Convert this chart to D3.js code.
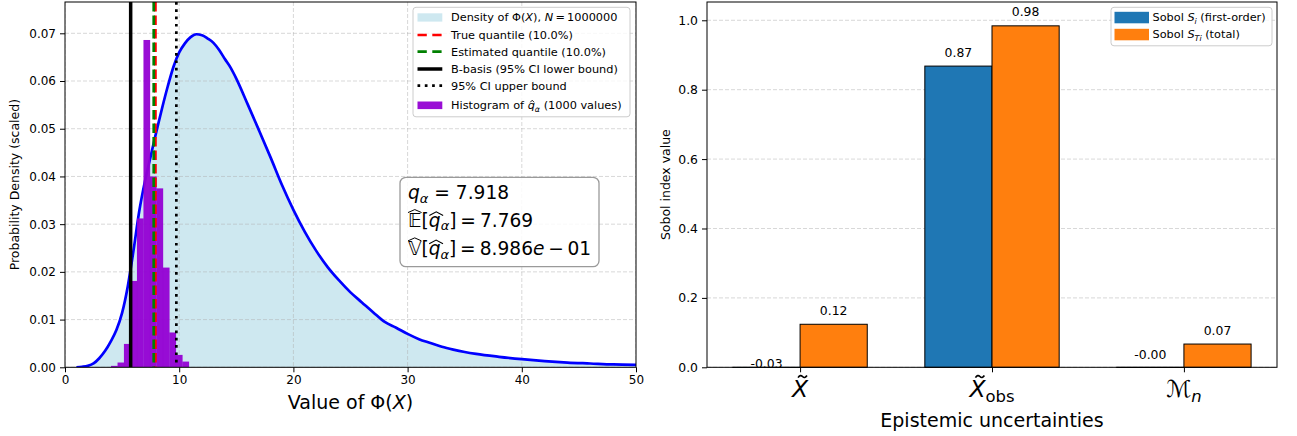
<!DOCTYPE html>
<html><head><meta charset="utf-8">
<script src="https://cdn.jsdelivr.net/npm/d3@7"></script>
<style>
body{margin:0;background:#fff}
svg{display:block}
text{font-family:"DejaVu Sans",sans-serif;fill:#000;white-space:pre}
</style>
</head><body>
<svg id="fig" width="1297" height="436"></svg>
<script>
// ---- Left panel: density of Phi(X) and quantile estimates ----
const phiGrid = [1.0,1.5,2.0,2.5,3.0,3.5,4.0,4.5,5.0,5.5,6.0,6.5,7.0,7.5,8.0,8.5,9.0,9.5,10.0,10.5,11.0,11.5,12.0,12.5,13.0,13.5,14.0,14.5,15,16,17,18,19,20,21,22,23,24,25,26,27,28,29,30,31,32,33,34,35,36,38,40,42,44,46,48,50];
const phiDensity = [0.0000,0.0001,0.0003,0.0008,0.0019,0.0034,0.0054,0.0078,0.0114,0.0170,0.0245,0.0327,0.0390,0.0442,0.0494,0.0543,0.0589,0.0630,0.0660,0.0679,0.0692,0.0698,0.0696,0.0689,0.0680,0.0665,0.0646,0.0628,0.0605,0.0551,0.0496,0.0440,0.0382,0.0330,0.0284,0.0244,0.0210,0.0182,0.0157,0.0136,0.0115,0.0095,0.0083,0.0070,0.0059,0.0051,0.0043,0.0037,0.0032,0.0028,0.0022,0.0017,0.0013,0.0010,0.0008,0.0006,0.0005];
const histEdges = [4.03,4.60,5.16,5.73,6.30,6.87,7.43,8.00,8.57,9.13,9.70,10.27,10.84];
const histHeights = [0.0003,0.0010,0.0049,0.0181,0.0312,0.0686,0.0400,0.0375,0.0209,0.0073,0.0026,0.0012];
const trueQuantile = 7.918;
const estQuantile = 7.769;
const bBasis = 5.75;
const ciUpper = 9.75;
const varEstimate = "8.986";
const xTicksL = [0,10,20,30,40,50];
const yTicksL = [0,0.01,0.02,0.03,0.04,0.05,0.06,0.07];

// ---- Right panel: Sobol indices ----
const sobolFirst = [-0.028, 0.868, -0.002];
const sobolTotal = [0.124, 0.984, 0.067];
const yTicksR = [0,0.2,0.4,0.6,0.8,1.0];

const svg = d3.select("#fig");
const FONT = '"DejaVu Sans",sans-serif';

// rich text: a row of pieces (italic, subscript, hats, tildes) laid out left to right
function rich(parent, segs, fs, x, y, anchor, rotate) {
  const g = parent.append("g");
  let cx = 0;
  segs.forEach(s => {
    const size = s.sub ? fs * 0.7 : fs;
    cx += (s.ml || 0) * fs;
    const t = g.append("text")
      .attr("xml:space", "preserve")
      .attr("x", cx).attr("y", s.sub ? fs * 0.2 : 0)
      .attr("font-size", size)
      .attr("font-style", s.i ? "italic" : "normal")
      .text(s.t);
    const w = t.node().getComputedTextLength();
    const sh = s.i ? fs * 0.08 : 0;
    if (s.hat === "wideCap") {
      g.append("path").attr("d", `M${cx},${-0.76*fs} L${cx + w/2},${-0.92*fs} L${cx + w},${-0.76*fs}`)
        .attr("fill", "none").attr("stroke", "#000").attr("stroke-width", 1);
    } else if (s.hat === "wideLow") {
      g.append("path").attr("d", `M${cx + sh - 1},${-0.6*fs} L${cx + sh + w/2},${-0.8*fs} L${cx + sh + w + 1},${-0.6*fs}`)
        .attr("fill", "none").attr("stroke", "#000").attr("stroke-width", 1.1);
    } else if (s.hat === "small") {
      const xc = cx + w/2 + sh;
      g.append("path").attr("d", `M${xc - 0.17*fs},${-0.62*fs} L${xc},${-0.8*fs} L${xc + 0.17*fs},${-0.62*fs}`)
        .attr("fill", "none").attr("stroke", "#000").attr("stroke-width", 0.9);
    }
    if (s.tilde) {
      const xc = cx + w/2 + sh * 1.3, y0 = -0.87 * fs, hw = 0.19 * fs, a = 0.045 * fs;
      g.append("path").attr("d", `M${xc-hw},${y0+a} Q${xc-hw/2},${y0-2.2*a} ${xc},${y0} T${xc+hw},${y0-a}`)
        .attr("fill", "none").attr("stroke", "#000").attr("stroke-width", 0.07*fs);
    }
    cx += w + (s.mr || 0) * fs;
  });
  const shift = anchor === "middle" ? -cx/2 : anchor === "end" ? -cx : 0;
  g.attr("transform", `translate(${x},${y})${rotate ? " rotate(" + rotate + ")" : ""} translate(${shift},0)`);
  return g;
}

function styleAxis(g, fs) {
  g.select(".domain").remove();
  g.selectAll(".tick line").attr("stroke", "#000").attr("stroke-width", 1);
  g.selectAll(".tick text").attr("font-family", FONT).attr("font-size", fs).attr("fill", "#000");
}

// ================= LEFT PANEL =================
const L = {x0: 65, x1: 636, y0: 2, y1: 367.3};
const xL = d3.scaleLinear().domain([0, 50]).range([L.x0, L.x1]);
const yL = d3.scaleLinear().domain([0, 0.07656]).range([L.y1, L.y0]);

svg.append("clipPath").attr("id", "clipL").append("rect")
  .attr("x", L.x0).attr("y", L.y0).attr("width", L.x1 - L.x0).attr("height", L.y1 - L.y0);
const gL = svg.append("g");
const plotL = gL.append("g").attr("clip-path", "url(#clipL)");

const densPts = phiGrid.map((v, i) => [v, phiDensity[i]]);
plotL.append("path")
  .attr("d", d3.area().x(d => xL(d[0])).y0(yL(0)).y1(d => yL(d[1])).curve(d3.curveMonotoneX)(densPts))
  .attr("fill", "#add8e6").attr("fill-opacity", 0.6);

// grid
const gridL = plotL.append("g").attr("stroke", "#b0b0b0").attr("stroke-opacity", 0.55)
  .attr("stroke-width", 0.9).attr("stroke-dasharray", "4,2");
xTicksL.forEach(v => gridL.append("line").attr("x1", xL(v)).attr("x2", xL(v)).attr("y1", L.y0).attr("y2", L.y1));
yTicksL.forEach(v => gridL.append("line").attr("x1", L.x0).attr("x2", L.x1).attr("y1", yL(v)).attr("y2", yL(v)));

plotL.append("path")
  .attr("d", d3.line().x(d => xL(d[0])).y(d => yL(d[1])).curve(d3.curveMonotoneX)(densPts))
  .attr("fill", "none").attr("stroke", "#0000ff").attr("stroke-width", 2.7).attr("stroke-linejoin", "round");

// histogram of the quantile estimates
plotL.append("g").selectAll("rect").data(histHeights).join("rect")
  .attr("x", (d, i) => xL(histEdges[i]))
  .attr("width", (d, i) => xL(histEdges[i + 1]) - xL(histEdges[i]) + 0.3)
  .attr("y", d => yL(d)).attr("height", d => yL(0) - yL(d))
  .attr("fill", "#9400d3").attr("fill-opacity", 0.95);

// vertical reference lines
plotL.append("line").attr("x1", xL(bBasis)).attr("x2", xL(bBasis)).attr("y1", L.y0).attr("y2", L.y1)
  .attr("stroke", "#000").attr("stroke-width", 3.5);
plotL.append("line").attr("x1", xL(trueQuantile)).attr("x2", xL(trueQuantile)).attr("y1", L.y0).attr("y2", L.y1)
  .attr("stroke", "#ff0000").attr("stroke-width", 2.7).attr("stroke-dasharray", "9.5,4");
plotL.append("line").attr("x1", xL(estQuantile)).attr("x2", xL(estQuantile)).attr("y1", L.y0).attr("y2", L.y1)
  .attr("stroke", "#008000").attr("stroke-width", 2.7).attr("stroke-dasharray", "9.5,4");
plotL.append("line").attr("x1", xL(ciUpper)).attr("x2", xL(ciUpper)).attr("y1", L.y0).attr("y2", L.y1)
  .attr("stroke", "#000").attr("stroke-width", 2.7).attr("stroke-dasharray", "2.7,4.6");

// axes
const axL = gL.append("g").attr("transform", `translate(0,${L.y1})`)
  .call(d3.axisBottom(xL).tickValues(xTicksL).tickFormat(d3.format("d")).tickSize(5).tickPadding(3));
styleAxis(axL, 12);
const ayL = gL.append("g").attr("transform", `translate(${L.x0},0)`)
  .call(d3.axisLeft(yL).tickValues(yTicksL).tickFormat(d3.format(".2f")).tickSize(5).tickPadding(4));
styleAxis(ayL, 12);
gL.append("rect").attr("x", L.x0).attr("y", L.y0).attr("width", L.x1 - L.x0).attr("height", L.y1 - L.y0)
  .attr("fill", "none").attr("stroke", "#000").attr("stroke-width", 1);

// axis titles
rich(gL, [{t: "Value of Φ("}, {t: "X", i: true}, {t: ")"}], 19, (L.x0 + L.x1) / 2, 409, "middle");
gL.append("text").attr("transform", `translate(19,${(L.y0 + L.y1) / 2}) rotate(-90)`)
  .attr("text-anchor", "middle").attr("font-size", 12.5).text("Probability Density (scaled)");

// legend
const lg = gL.append("g");
lg.append("rect").attr("x", 413).attr("y", 7.3).attr("width", 217).attr("height", 109.5).attr("rx", 3)
  .attr("fill", "#fff").attr("fill-opacity", 0.8).attr("stroke", "#cccccc").attr("stroke-width", 1);
const hx0 = 417.5, hx1 = 442.3, tx = 451, lfs = 11.3;
const rows = [17.3, 35, 51.7, 69, 85.7, 105.3];
lg.append("rect").attr("x", hx0).attr("y", rows[0] - 4).attr("width", hx1 - hx0).attr("height", 8.3)
  .attr("fill", "#add8e6").attr("fill-opacity", 0.6);
lg.append("line").attr("x1", hx0).attr("x2", hx1).attr("y1", rows[1]).attr("y2", rows[1])
  .attr("stroke", "#ff0000").attr("stroke-width", 2.7).attr("stroke-dasharray", "9.3,5.5");
lg.append("line").attr("x1", hx0).attr("x2", hx1).attr("y1", rows[2]).attr("y2", rows[2])
  .attr("stroke", "#008000").attr("stroke-width", 2.7).attr("stroke-dasharray", "9.3,5.5");
lg.append("line").attr("x1", hx0).attr("x2", hx1).attr("y1", rows[3]).attr("y2", rows[3])
  .attr("stroke", "#000").attr("stroke-width", 3.5);
lg.append("line").attr("x1", hx0).attr("x2", hx1).attr("y1", rows[4]).attr("y2", rows[4])
  .attr("stroke", "#000").attr("stroke-width", 2.7).attr("stroke-dasharray", "2.7,4.6");
lg.append("rect").attr("x", hx0).attr("y", rows[5] - 3.8).attr("width", hx1 - hx0).attr("height", 7.6)
  .attr("fill", "#9400d3").attr("fill-opacity", 0.95);
rich(lg, [{t: "Density of Φ("}, {t: "X", i: true}, {t: "), "}, {t: "N", i: true}, {t: "=", ml: 0.2, mr: 0.2}, {t: "1000000"}], lfs, tx, rows[0] + 4, "start");
lg.append("text").attr("x", tx).attr("y", rows[1] + 4).attr("font-size", lfs).text("True quantile (10.0%)");
lg.append("text").attr("x", tx).attr("y", rows[2] + 4).attr("font-size", lfs).text("Estimated quantile (10.0%)");
lg.append("text").attr("x", tx).attr("y", rows[3] + 4).attr("font-size", lfs).text("B-basis (95% CI lower bound)");
lg.append("text").attr("x", tx).attr("y", rows[4] + 4).attr("font-size", lfs).text("95% CI upper bound");
rich(lg, [{t: "Histogram of "}, {t: "q", i: true, hat: "small"}, {t: "α", i: true, sub: true}, {t: " (1000 values)"}], lfs, tx, rows[5] + 4, "start");

// statistics box
const sb = gL.append("g");
sb.append("rect").attr("x", 400).attr("y", 177.3).attr("width", 199).attr("height", 89.4).attr("rx", 6)
  .attr("fill", "#fff").attr("fill-opacity", 0.85).attr("stroke", "#9a9a9a").attr("stroke-width", 1.3);
const sfs = 18.6;
rich(sb, [{t: "q", i: true}, {t: "α", i: true, sub: true}, {t: " = "}, {t: trueQuantile.toFixed(3)}], sfs, 408, 199.3, "start");
rich(sb, [{t: "𝔼", hat: "wideCap"}, {t: "["}, {t: "q", i: true, hat: "wideLow"}, {t: "α", i: true, sub: true}, {t: "]"},
          {t: "=", ml: 0.2, mr: 0.22}, {t: estQuantile.toFixed(3)}], sfs, 408, 226.7, "start");
rich(sb, [{t: "𝕍", hat: "wideCap"}, {t: "["}, {t: "q", i: true, hat: "wideLow"}, {t: "α", i: true, sub: true}, {t: "]"},
          {t: "=", ml: 0.2, mr: 0.22}, {t: varEstimate}, {t: "e", i: true}, {t: "−", ml: 0.2, mr: 0.2}, {t: "01"}], sfs, 408, 255, "start");

// ================= RIGHT PANEL =================
const R = {x0: 707, x1: 1277, y0: 2, y1: 367.3};
const xR = d3.scaleLinear().domain([-0.485, 2.485]).range([R.x0, R.x1]);
const yR = d3.scaleLinear().domain([0, 1.0527]).range([R.y1, R.y0]);
const barW = 0.35;

svg.append("clipPath").attr("id", "clipR").append("rect")
  .attr("x", R.x0).attr("y", R.y0).attr("width", R.x1 - R.x0).attr("height", R.y1 - R.y0 + 0.6);
const gR = svg.append("g");
const plotR = gR.append("g").attr("clip-path", "url(#clipR)");

const gridR = plotR.append("g").attr("stroke", "#b0b0b0").attr("stroke-opacity", 0.55)
  .attr("stroke-width", 0.9).attr("stroke-dasharray", "4,2");
yTicksR.forEach(v => gridR.append("line").attr("x1", R.x0).attr("x2", R.x1).attr("y1", yR(v)).attr("y2", yR(v)));

function bars(vals, off, color) {
  plotR.append("g").selectAll("rect").data(vals).join("rect")
    .attr("x", (d, i) => xR(i + off))
    .attr("width", xR(barW) - xR(0))
    .attr("y", d => Math.min(yR(d), yR(0)))
    .attr("height", d => Math.abs(yR(0) - yR(d)))
    .attr("fill", color).attr("stroke", "#000").attr("stroke-width", 1);
}
bars(sobolFirst, -barW, "#1f77b4");
bars(sobolTotal, 0, "#ff7f0e");

// value labels
const fmt2 = v => v.toFixed(2);
function barLabels(vals, off) {
  gR.append("g").selectAll("text").data(vals).join("text")
    .attr("x", (d, i) => xR(i + off + barW / 2))
    .attr("y", d => yR(d + 0.02) - 2.5)
    .attr("text-anchor", "middle").attr("font-size", 12.4).text(fmt2);
}
barLabels(sobolFirst, -barW);
barLabels(sobolTotal, 0);

const ayR = gR.append("g").attr("transform", `translate(${R.x0},0)`)
  .call(d3.axisLeft(yR).tickValues(yTicksR).tickFormat(d3.format(".1f")).tickSize(5).tickPadding(4));
styleAxis(ayR, 12.4);
const axR = gR.append("g").attr("transform", `translate(0,${R.y1})`)
  .call(d3.axisBottom(xR).tickValues([0, 1, 2]).tickFormat("").tickSize(5));
styleAxis(axR, 12);
gR.append("rect").attr("x", R.x0).attr("y", R.y0).attr("width", R.x1 - R.x0).attr("height", R.y1 - R.y0)
  .attr("fill", "none").attr("stroke", "#000").attr("stroke-width", 1);

// category labels
const cfs = 23.5;
const catLabels = [
  [{t: "X", i: true, tilde: true}],
  [{t: "X", i: true, tilde: true}, {t: "obs", sub: true}],
  [{t: "ℳ"}, {t: "n", i: true, sub: true}]
];
catLabels.forEach((segs, i) => rich(gR, segs, cfs, xR(i), 397, "middle"));

rich(gR, [{t: "Epistemic uncertainties"}], 19, (R.x0 + R.x1) / 2, 427, "middle");
gR.append("text").attr("transform", `translate(670,${(R.y0 + R.y1) / 2}) rotate(-90)`)
  .attr("text-anchor", "middle").attr("font-size", 12.5).text("Sobol index value");

// legend
const lr = gR.append("g");
lr.append("rect").attr("x", 1111).attr("y", 7.3).attr("width", 161).attr("height", 38.5).attr("rx", 3)
  .attr("fill", "#fff").attr("fill-opacity", 0.8).attr("stroke", "#cccccc").attr("stroke-width", 1);
lr.append("rect").attr("x", 1114.5).attr("y", 11.8).attr("width", 34.5).attr("height", 11.5).attr("fill", "#1f77b4");
lr.append("rect").attr("x", 1114.5).attr("y", 28.8).attr("width", 34.5).attr("height", 11.5).attr("fill", "#ff7f0e");
rich(lr, [{t: "Sobol "}, {t: "S", i: true}, {t: "i", i: true, sub: true}, {t: " (first-order)"}], 11.3, 1152.5, 21.3, "start");
rich(lr, [{t: "Sobol "}, {t: "S", i: true}, {t: "Ti", i: true, sub: true}, {t: " (total)"}], 11.3, 1152.5, 38.3, "start");
</script>
</body></html>
